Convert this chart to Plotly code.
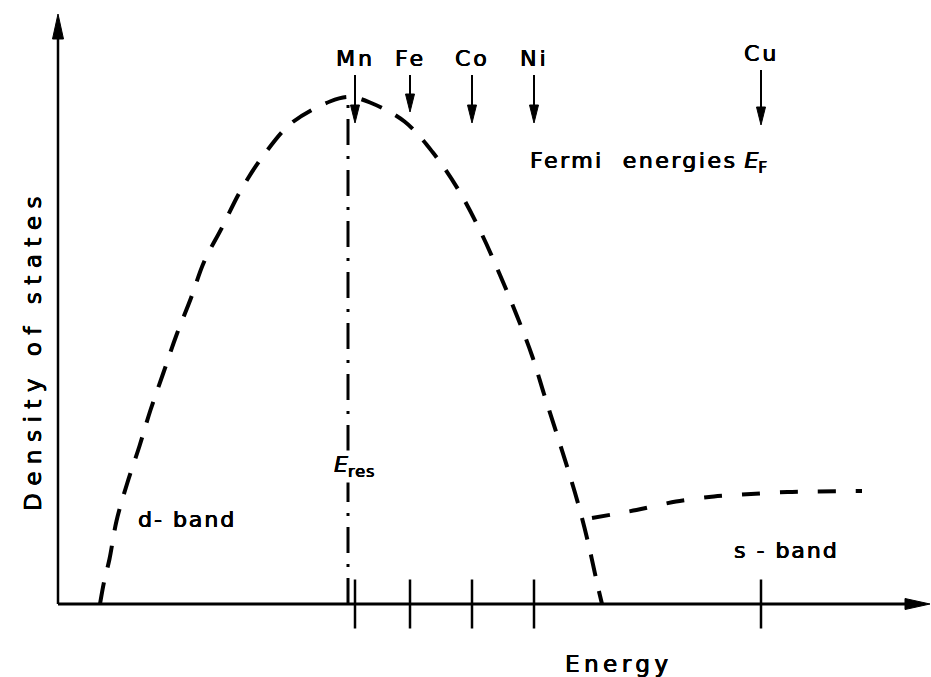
import plotly.graph_objects as go

# Energies and densities of states in arbitrary units
# (energy measured from the density-of-states axis)
elements = ["Mn", "Fe", "Co", "Ni", "Cu"]
fermi_energy = [29.7, 35.2, 41.4, 47.6, 70.3]
e_res = 29.0

# d-band density of states
d_energy = [4.2, 4.6, 5.15, 5.85, 6.9, 8.15, 9.25, 10.55, 11.85, 13.3, 14.6,
            16.4, 18.3, 20.65, 23.35, 27.2, 29.2, 31.2, 34.65, 37.45, 40.05,
            42.3, 44.2, 46.0, 47.45, 48.6, 49.8, 50.95, 51.95, 52.95, 53.95, 54.4]
d_dos = [0.0, 2.2, 4.5, 8.3, 12.0, 15.8, 19.4, 23.15, 26.9, 30.6, 34.2,
         37.65, 41.4, 45.0, 48.1, 50.25, 50.7, 50.15, 48.25, 45.2, 41.4,
         37.15, 32.9, 28.55, 24.7, 21.0, 17.25, 13.6, 10.25, 6.4, 1.9, 0.0]

# s-band density of states
s_energy = [53.4, 57.85, 61.8, 65.6, 69.3, 72.95, 80.4]
s_dos = [8.6, 9.4, 10.25, 10.75, 11.0, 11.2, 11.3]

# ---- drawing -------------------------------------------------------------
W, H = 931, 677
ORIGIN_X, ORIGIN_Y = 58, 604      # pixel position of the axes' origin
PX = 0.1                          # data units per pixel on both axes
X_RANGE = [-ORIGIN_X * PX, (W - ORIGIN_X) * PX]
Y_RANGE = [-(H - ORIGIN_Y) * PX, ORIGIN_Y * PX]
X_END = (W - 1 - ORIGIN_X) * PX   # tip of the energy-axis arrow
Y_END = (ORIGIN_Y - 14) * PX      # tip of the density-axis arrow
FONT = "DejaVu Sans"
INK = "black"
# slight stroke thickening for the hand-lettered look
SHADOW = "0.5px 0 0 #000, -0.3px 0 0 #000, 0 0.4px 0 #000"


def spaced(text, spacing, size=22):
    return (f'<span style="letter-spacing:{spacing}px;font-size:{size}px">'
            f'{text}</span>')


def label_font(size=22):
    return dict(family=FONT, size=size, color=INK, shadow=SHADOW)


fig = go.Figure()

# d-band (dashed)
fig.add_trace(go.Scatter(
    x=d_energy, y=d_dos, mode="lines",
    line=dict(color=INK, width=4, dash="22px,15.5px", shape="spline", smoothing=1.0),
    hoverinfo="skip"))

# s-band (dashed)
fig.add_trace(go.Scatter(
    x=s_energy, y=s_dos, mode="lines",
    line=dict(color=INK, width=4, dash="18px,20px", shape="spline", smoothing=0.8),
    hoverinfo="skip"))

# resonance energy: dash-dot vertical line
fig.add_trace(go.Scatter(
    x=[e_res, e_res], y=[0, max(d_dos) - 0.3], mode="lines",
    line=dict(color=INK, width=3, dash="26px,11px,3px,11px"),
    hoverinfo="skip"))

# Fermi-energy ticks on the energy axis
fig.add_trace(go.Scatter(
    x=fermi_energy, y=[0] * len(fermi_energy), mode="markers",
    marker=dict(symbol="line-ns", size=35, line=dict(width=2.5, color=INK)),
    hoverinfo="skip"))

shapes = []
annotations = []

# axes with arrowheads
head_len, head_half = 25 * PX, 5.5 * PX
shapes.append(dict(type="line", xref="x", yref="y", x0=0, y0=0,
                   x1=X_END - head_len + 0.3, y1=0,
                   line=dict(color=INK, width=3)))
shapes.append(dict(type="path", xref="x", yref="y",
                   path=f"M{X_END},0 L{X_END - head_len},{head_half} "
                        f"L{X_END - head_len},{-head_half} Z",
                   fillcolor=INK, line=dict(color=INK, width=1)))
shapes.append(dict(type="line", xref="x", yref="y", x0=0, y0=0,
                   x1=0, y1=Y_END - head_len + 0.3,
                   line=dict(color=INK, width=2.5)))
shapes.append(dict(type="path", xref="x", yref="y",
                   path=f"M0,{Y_END} L{head_half},{Y_END - head_len} "
                        f"L{-head_half},{Y_END - head_len} Z",
                   fillcolor=INK, line=dict(color=INK, width=1)))

# Fermi-energy arrows with element labels
arrow_span = {"Fe": (52.9, 49.2), "Cu": (53.4, 47.9)}
a_len, a_half = 18 * PX, 4.5 * PX
for el, e in zip(elements, fermi_energy):
    top, tip = arrow_span.get(el, (52.9, 48.1))
    shapes.append(dict(type="line", xref="x", yref="y", x0=e, y0=top,
                       x1=e, y1=tip + a_len * 0.8,
                       line=dict(color=INK, width=2)))
    shapes.append(dict(type="path", xref="x", yref="y",
                       path=f"M{e},{tip} L{e - a_half},{tip + a_len} "
                            f"L{e + a_half},{tip + a_len} Z",
                       fillcolor=INK, line=dict(color=INK, width=1)))
    annotations.append(dict(x=e, y=top + 1.7, xref="x", yref="y",
                            text=spaced(el, 3), showarrow=False,
                            font=label_font()))

annotations += [
    dict(x=47.0, y=44.2, xref="x", yref="y", xanchor="left",
         text=spaced("Fermi&nbsp; energies", 2.5) + " <i>E</i><sub>F</sub>",
         showarrow=False, font=label_font()),
    dict(x=27.4, y=13.8, xref="x", yref="y", xanchor="left",
         text="<i>E</i><sub>" + spaced("res", 1, 16) + "</sub>",
         showarrow=False, bgcolor="white", font=label_font()),
    dict(x=12.9, y=8.5, xref="x", yref="y",
         text=spaced("d- band", 2), showarrow=False,
         font=label_font()),
    dict(x=72.8, y=5.4, xref="x", yref="y", xanchor="center",
         text=spaced("s - band", 2), showarrow=False,
         font=label_font()),
    dict(x=(619 - ORIGIN_X) * PX, y=(ORIGIN_Y - 664) * PX, xref="x", yref="y",
         xanchor="center", yanchor="middle",
         text=spaced("Energy", 4.5, 23), showarrow=False,
         font=label_font(23)),
    dict(x=(33 - ORIGIN_X) * PX, y=(ORIGIN_Y - 350) * PX, xref="x", yref="y",
         xanchor="center", yanchor="middle", textangle=-90,
         text=spaced("Density of states", 7.5, 23), showarrow=False,
         font=label_font(23)),
]

fig.update_layout(
    width=W, height=H,
    margin=dict(l=0, r=0, t=0, b=0, pad=0),
    paper_bgcolor="white", plot_bgcolor="white",
    showlegend=False,
    xaxis=dict(range=X_RANGE, visible=False, fixedrange=True),
    yaxis=dict(range=Y_RANGE, visible=False, fixedrange=True),
    shapes=shapes, annotations=annotations,
)

fig.write_html("out.html")
